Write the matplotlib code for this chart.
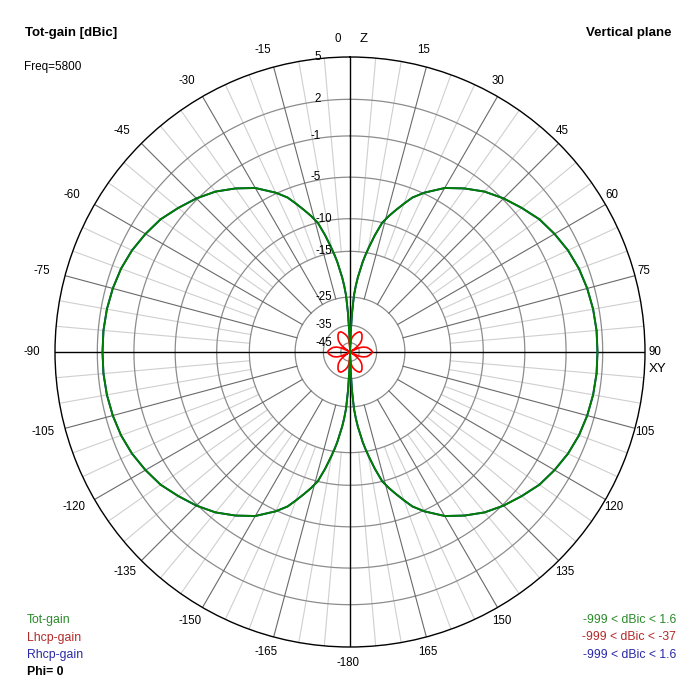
import numpy as np
import matplotlib
matplotlib.use('Agg')
import matplotlib.pyplot as plt

plt.rcParams['font.family'] = ['Liberation Sans', 'DejaVu Sans']

# ---------------- data (dBic) ----------------
tot_theta = [0, 1, 2, 3, 4, 5, 6, 7, 8, 9, 10, 12, 14, 16, 18, 20, 22, 25, 30, 35, 40, 45,
             50, 55, 60, 65, 70, 75, 80, 85, 90, 95, 100, 105, 110, 115, 120, 125, 130,
             135, 140, 145, 150, 155, 158, 160, 162, 164, 166, 168, 170, 171, 172, 173,
             174, 175, 176, 177, 178, 179, 180]
tot_gain = [-60, -47, -39, -30, -24.5, -22, -20, -18.5, -16.8, -15.5, -14.3, -12, -10, -8.9,
            -7.9, -6.9, -5.9, -4.9, -3.5, -2.5, -1.6, -0.9, -0.3, 0.3, 0.7, 1.05, 1.3, 1.45,
            1.55, 1.6, 1.6, 1.6, 1.55, 1.45, 1.3, 1.05, 0.7, 0.3, -0.3, -0.9, -1.6, -2.5,
            -3.5, -4.9, -5.9, -6.9, -7.9, -8.9, -10, -12, -14.3, -15.5, -16.8, -18.5, -20,
            -22, -24.5, -30, -39, -47, -60]
rhcp_gain = [-60, -47, -39, -30, -24.5, -22, -20, -18.5, -16.8, -15.5, -14.3, -12, -10, -8.9,
             -7.9, -6.9, -5.9, -4.9, -3.5, -2.5, -1.6, -0.9, -0.3, 0.3, 0.7, 1.05, 1.3, 1.45,
             1.55, 1.6, 1.6, 1.6, 1.55, 1.45, 1.3, 1.05, 0.7, 0.3, -0.3, -0.9, -1.6, -2.5,
             -3.5, -4.9, -5.9, -6.9, -7.9, -8.9, -10, -12, -14.3, -15.5, -16.8, -18.5, -20,
             -22, -24.5, -30, -39, -47, -60]
lhcp_theta = [0, 2.5, 5, 7.5, 10, 15, 20, 25, 30, 35, 40, 45, 50, 52.5, 55, 57.5, 60,
              62.5, 65, 67.5, 70, 75, 80, 85, 90, 95, 100, 105, 110, 112.5, 115, 117.5, 120,
              122.5, 125, 127.5, 130, 135, 140, 145, 150, 155, 160, 165, 170, 172.5, 175,
              177.5, 180]
lhcp_gain = [-70, -50, -43.5, -41.8, -40.7, -39.2, -38, -37.1, -37.05, -37.8, -39, -40.3,
             -42.5, -44.5, -48, -53, -70, -50, -45, -43, -41.5, -39.6, -38.6, -37.6, -37,
             -37.6, -38.6, -39.6, -41.5, -43, -45, -50, -70, -53, -48, -44.5, -42.5, -40.3,
             -39, -37.8, -37.05, -37.1, -38, -39.2, -40.7, -41.8, -43.5, -50, -70]

ring_db = [5, 2, -1, -5, -10, -15, -25, -35, -45]
ring_labels = ['5', '2', '-1', '-5', '-10', '-15', '-25', '-35', '-45']
angle_ticks = [15, 30, 45, 60, 75, 90, 105, 120, 135, 150, 165, 180,
               -165, -150, -135, -120, -105, -90, -75, -60, -45, -30, -15]
angle_labels = ['15', '30', '45', '60', '75', '90', '105', '120', '135', '150', '165', '-180',
                '-165', '-150', '-135', '-120', '-105', '-90', '-75', '-60', '-45', '-30', '-15']

legend_names = ['Tot-gain', 'Lhcp-gain', 'Rhcp-gain']
legend_ranges = ['-999 < dBic < 1.6', '-999 < dBic < -37', '-999 < dBic < 1.6']

# ---------------- radial scale (4nec2-like compressed dB scale) ----------------
K = 0.04826
C = 0.07664


def fwd(d):
    return np.exp(K * np.asarray(d, dtype=float)) - C


def inv(v):
    return np.log(np.maximum(np.asarray(v, dtype=float) + C, 1e-12)) / K


DB_MIN = float(np.log(C) / K)
DB_MAX = 5

W = H = 700
CX, CY, R = 350, 352, 295
PT = 72.0 / 100.0  # points per pixel

fig = plt.figure(figsize=(7, 7), dpi=100)
fig.patch.set_facecolor('white')
ax = fig.add_axes([(CX - R) / W, (H - CY - R) / H, 2 * R / W, 2 * R / H], projection='polar')
ax.set_theta_zero_location('N')
ax.set_theta_direction(-1)
ax.set_rscale('function', functions=(fwd, inv))

# rings
th_full = np.linspace(0, 2 * np.pi, 721)
for d in ring_db[1:]:
    ax.plot(th_full, np.full_like(th_full, d), color='#8c8c8c', lw=0.9, zorder=1)

# spokes
for a in range(0, 360, 5):
    if a % 90 == 0:
        continue
    t = np.deg2rad(a)
    if a % 15 == 0:
        ax.plot([t, t], [-25, DB_MAX], color='#6a6a6a', lw=0.8, zorder=1)
    else:
        ax.plot([t, t], [-15, DB_MAX], color='#cfcfcf', lw=0.8, zorder=0.9)

# main axes lines
for a in (0, 90, 180, 270):
    t = np.deg2rad(a)
    ax.plot([t, t], [DB_MIN, DB_MAX], color='black', lw=1.0, zorder=2)

# curves
tt = np.deg2rad(np.array(tot_theta, dtype=float))
lt = np.deg2rad(np.array(lhcp_theta, dtype=float))
rh = np.maximum(np.array(rhcp_gain, dtype=float), DB_MIN)
tg = np.maximum(np.array(tot_gain, dtype=float), DB_MIN)
lg = np.maximum(np.array(lhcp_gain, dtype=float), DB_MIN)

for sgn in (1, -1):
    ax.plot(sgn * tt, rh, color='#1010b0', lw=1.3, zorder=3)
for sgn in (1, -1):
    ax.plot(sgn * lt, lg, color='#ff0000', lw=1.2, zorder=4)
for sgn in (1, -1):
    ax.plot(sgn * tt, tg, color='#008000', lw=1.4, zorder=5)

ax.set_rlim(DB_MIN, DB_MAX)
ax.set_xticks([])
ax.set_yticks([])
ax.grid(False)
ax.spines['polar'].set_color('black')
ax.spines['polar'].set_linewidth(1.0)
ax.set_facecolor('white')

# radial ring labels
for d, lbl in zip(ring_db, ring_labels):
    dx = -29 if len(lbl) <= 2 else -18
    ax.annotate(lbl, xy=(0, d), xytext=(dx * PT, 0), textcoords='offset points',
                ha='right', va='center', fontsize=8.3, color='black',
                annotation_clip=False, zorder=6)

# angle labels
for a, lbl in zip(angle_ticks, angle_labels):
    r = np.deg2rad(a)
    s, c = np.sin(r), np.cos(r)
    dx = 307 * s - 2 - 4 * max(c, 0) - 9 * max(-s, 0)
    dy = -311 * c - 2 * max(c, 0)
    ax.annotate(lbl, xy=(0, DB_MIN), xytext=(dx * PT, -dy * PT), textcoords='offset points',
                ha='center', va='center', fontsize=8.3, annotation_clip=False)


def ftext(x, y, s, **kw):
    fig.text(x / W, 1 - y / H, s, **kw)


ftext(338, 39, '0', ha='center', va='center', fontsize=8.3)
ftext(364, 39, 'Z', ha='center', va='center', fontsize=9.5)
ftext(658, 369, 'XY', ha='center', va='center', fontsize=9.5)

ftext(25, 33, 'Tot-gain [dBic]', ha='left', va='center', fontsize=9.5, fontweight='bold')
ftext(24, 67, 'Freq=5800', ha='left', va='center', fontsize=8.5)
ftext(672, 33, 'Vertical plane', ha='right', va='center', fontsize=9.5, fontweight='bold')

leg_colors = ['#2a8a2a', '#b42828', '#2828a8']
for i, (nm, rg, col) in enumerate(zip(legend_names, legend_ranges, leg_colors)):
    y = 620 + i * 17.5
    ftext(27, y, nm, ha='left', va='center', fontsize=8.8, color=col)
    ftext(676, y, rg, ha='right', va='center', fontsize=8.8, color=col)
ftext(27, 672, 'Phi= 0', ha='left', va='center', fontsize=8.8, fontweight='bold')

fig.savefig('out.png', dpi=100, facecolor='white')
